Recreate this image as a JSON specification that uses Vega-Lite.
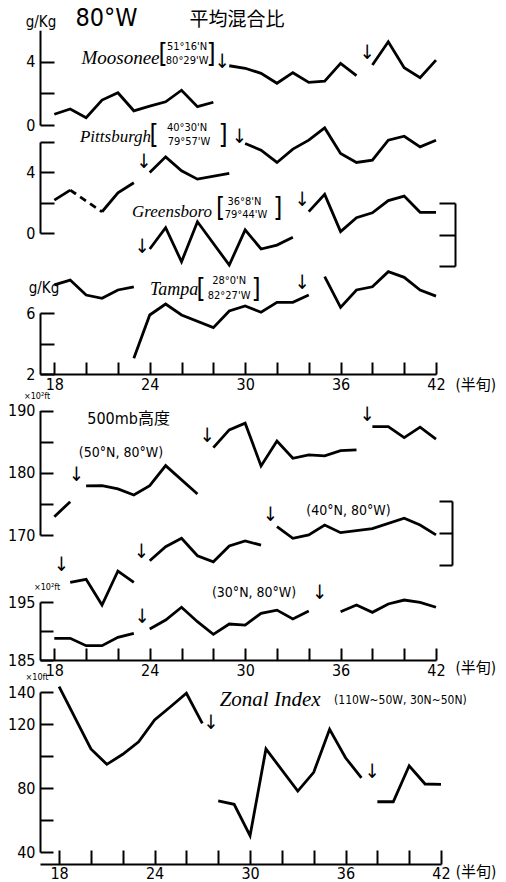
{
"$schema": "https://vega.github.io/schema/vega-lite/v6.json",
"padding": {"left": 7, "top": 0, "right": 0, "bottom": 0},
"background": "white",
"bounds": "flush",
"spacing": 16,
"config": {
  "view": {"stroke": null},
  "axis": {"grid": false, "domainColor": "#000", "domainWidth": 2, "tickColor": "#000", "tickWidth": 2, "labelColor": "#000", "labelFont": "DejaVu Sans Condensed, sans-serif", "labelFontSize": 16, "labelFlush": false, "labelOverlap": false, "labelPadding": 3}
},
"datasets": {
  "mix": [
    {"s":"M","g":"1","x":18,"v":0.68},{"s":"M","g":"1","x":19,"v":1.01},{"s":"M","g":"1","x":20,"v":0.46},{"s":"M","g":"1","x":21,"v":1.58},{"s":"M","g":"1","x":22,"v":2.04},{"s":"M","g":"1","x":23,"v":0.9},{"s":"M","g":"1","x":24,"v":1.2},{"s":"M","g":"1","x":25,"v":1.47},{"s":"M","g":"1","x":26,"v":2.2},{"s":"M","g":"1","x":27,"v":1.16},{"s":"M","g":"1","x":28,"v":1.44},
    {"s":"M","g":"2","x":29,"v":3.75},{"s":"M","g":"2","x":30,"v":3.59},{"s":"M","g":"2","x":31,"v":3.27},{"s":"M","g":"2","x":32,"v":2.64},{"s":"M","g":"2","x":33,"v":3.31},{"s":"M","g":"2","x":34,"v":2.7},{"s":"M","g":"2","x":35,"v":2.78},{"s":"M","g":"2","x":36,"v":3.9},{"s":"M","g":"2","x":37,"v":3.12},
    {"s":"M","g":"3","x":38,"v":3.8},{"s":"M","g":"3","x":39,"v":5.27},{"s":"M","g":"3","x":40,"v":3.63},{"s":"M","g":"3","x":41,"v":2.99},{"s":"M","g":"3","x":42,"v":4.11},
    {"s":"P","g":"1","x":18,"v":2.17},{"s":"P","g":"1","x":19,"v":2.83},
    {"s":"P","g":"d","x":19,"v":2.83},{"s":"P","g":"d","x":21,"v":1.4},
    {"s":"P","g":"2","x":21,"v":1.4},{"s":"P","g":"2","x":22,"v":2.65},{"s":"P","g":"2","x":23,"v":3.31},
    {"s":"P","g":"3","x":24,"v":3.99},{"s":"P","g":"3","x":25,"v":5.02},{"s":"P","g":"3","x":26,"v":4.1},{"s":"P","g":"3","x":27,"v":3.55},{"s":"P","g":"3","x":29,"v":3.93},
    {"s":"P","g":"4","x":30,"v":5.9},{"s":"P","g":"4","x":31,"v":5.46},{"s":"P","g":"4","x":32,"v":4.65},{"s":"P","g":"4","x":33,"v":5.53},{"s":"P","g":"4","x":34,"v":6.12},{"s":"P","g":"4","x":35,"v":6.93},{"s":"P","g":"4","x":36,"v":5.24},{"s":"P","g":"4","x":37,"v":4.65},{"s":"P","g":"4","x":38,"v":4.8},{"s":"P","g":"4","x":39,"v":6.12},{"s":"P","g":"4","x":40,"v":6.38},{"s":"P","g":"4","x":41,"v":5.68},{"s":"P","g":"4","x":42,"v":6.12},
    {"s":"G","g":"1","x":24,"v":1.08},{"s":"G","g":"1","x":25,"v":2.43},{"s":"G","g":"1","x":26,"v":0.27},{"s":"G","g":"1","x":27,"v":2.81},{"s":"G","g":"1","x":29,"v":0.06},{"s":"G","g":"1","x":30,"v":2.29},{"s":"G","g":"1","x":31,"v":1.08},{"s":"G","g":"1","x":32,"v":1.33},{"s":"G","g":"1","x":33,"v":1.82},
    {"s":"G","g":"2","x":34,"v":3.45},{"s":"G","g":"2","x":35,"v":4.55},{"s":"G","g":"2","x":36,"v":2.18},{"s":"G","g":"2","x":37,"v":3.07},{"s":"G","g":"2","x":38,"v":3.38},{"s":"G","g":"2","x":39,"v":4.15},{"s":"G","g":"2","x":40,"v":4.44},{"s":"G","g":"2","x":41,"v":3.41},{"s":"G","g":"2","x":42,"v":3.41},
    {"s":"T","g":"1","x":18,"v":7.84},{"s":"T","g":"1","x":19,"v":8.16},{"s":"T","g":"1","x":20,"v":7.18},{"s":"T","g":"1","x":21,"v":6.96},{"s":"T","g":"1","x":22,"v":7.51},{"s":"T","g":"1","x":23,"v":7.72},
    {"s":"T","g":"2","x":23,"v":3.03},{"s":"T","g":"2","x":24,"v":5.87},{"s":"T","g":"2","x":25,"v":6.59},{"s":"T","g":"2","x":26,"v":5.87},{"s":"T","g":"2","x":28,"v":5.04},{"s":"T","g":"2","x":29,"v":6.13},{"s":"T","g":"2","x":30,"v":6.46},{"s":"T","g":"2","x":31,"v":6.05},{"s":"T","g":"2","x":32,"v":6.7},{"s":"T","g":"2","x":33,"v":6.7},{"s":"T","g":"2","x":34,"v":7.18},
    {"s":"T","g":"3","x":35,"v":8.38},{"s":"T","g":"3","x":36,"v":6.37},{"s":"T","g":"3","x":37,"v":7.51},{"s":"T","g":"3","x":38,"v":7.72},{"s":"T","g":"3","x":39,"v":8.71},{"s":"T","g":"3","x":40,"v":8.34},{"s":"T","g":"3","x":41,"v":7.51},{"s":"T","g":"3","x":42,"v":7.11}
  ],
  "hgt": [
    {"s":"N50","g":"1","x":18,"v":172.94},{"s":"N50","g":"1","x":19,"v":175.35},
    {"s":"N50","g":"2","x":20,"v":177.88},{"s":"N50","g":"2","x":21,"v":177.93},{"s":"N50","g":"2","x":22,"v":177.4},{"s":"N50","g":"2","x":23,"v":176.43},{"s":"N50","g":"2","x":24,"v":177.93},{"s":"N50","g":"2","x":25,"v":181.14},{"s":"N50","g":"2","x":27,"v":176.59},
    {"s":"N50","g":"3","x":28,"v":184.04},{"s":"N50","g":"3","x":29,"v":186.88},{"s":"N50","g":"3","x":30,"v":187.96},{"s":"N50","g":"3","x":31,"v":181.09},{"s":"N50","g":"3","x":32,"v":185.11},{"s":"N50","g":"3","x":33,"v":182.33},{"s":"N50","g":"3","x":34,"v":182.86},{"s":"N50","g":"3","x":35,"v":182.7},{"s":"N50","g":"3","x":36,"v":183.55},{"s":"N50","g":"3","x":37,"v":183.67},
    {"s":"N50","g":"4","x":38,"v":187.41},{"s":"N50","g":"4","x":39,"v":187.41},{"s":"N50","g":"4","x":40,"v":185.64},{"s":"N50","g":"4","x":41,"v":187.32},{"s":"N50","g":"4","x":42,"v":185.39},
    {"s":"N40","g":"1","x":19,"v":177.3},{"s":"N40","g":"1","x":20,"v":177.77},{"s":"N40","g":"1","x":21,"v":173.75},{"s":"N40","g":"1","x":22,"v":179.06},{"s":"N40","g":"1","x":23,"v":177.3},
    {"s":"N40","g":"2","x":24,"v":180.67},{"s":"N40","g":"2","x":25,"v":182.86},{"s":"N40","g":"2","x":26,"v":184.17},{"s":"N40","g":"2","x":27,"v":181.45},{"s":"N40","g":"2","x":28,"v":180.5},{"s":"N40","g":"2","x":29,"v":182.97},{"s":"N40","g":"2","x":30,"v":183.75},{"s":"N40","g":"2","x":31,"v":183.1},
    {"s":"N40","g":"3","x":32,"v":186.0},{"s":"N40","g":"3","x":33,"v":184.17},{"s":"N40","g":"3","x":34,"v":184.7},{"s":"N40","g":"3","x":35,"v":186.25},{"s":"N40","g":"3","x":36,"v":185.05},{"s":"N40","g":"3","x":38,"v":185.7},{"s":"N40","g":"3","x":40,"v":187.3},{"s":"N40","g":"3","x":41,"v":186.25},{"s":"N40","g":"3","x":42,"v":184.7},
    {"s":"N30","g":"1","x":18,"v":188.74},{"s":"N30","g":"1","x":19,"v":188.74},{"s":"N30","g":"1","x":20,"v":187.47},{"s":"N30","g":"1","x":21,"v":187.47},{"s":"N30","g":"1","x":22,"v":188.9},{"s":"N30","g":"1","x":23,"v":189.6},
    {"s":"N30","g":"2","x":24,"v":190.34},{"s":"N30","g":"2","x":25,"v":191.9},{"s":"N30","g":"2","x":26,"v":194.1},{"s":"N30","g":"2","x":27,"v":191.6},{"s":"N30","g":"2","x":28,"v":189.43},{"s":"N30","g":"2","x":29,"v":191.2},{"s":"N30","g":"2","x":30,"v":191.03},{"s":"N30","g":"2","x":31,"v":193.05},{"s":"N30","g":"2","x":32,"v":193.6},{"s":"N30","g":"2","x":33,"v":192.07},{"s":"N30","g":"2","x":34,"v":193.45},
    {"s":"N30","g":"3","x":36,"v":193.33},{"s":"N30","g":"3","x":37,"v":194.48},{"s":"N30","g":"3","x":38,"v":193.22},{"s":"N30","g":"3","x":39,"v":194.66},{"s":"N30","g":"3","x":40,"v":195.34},{"s":"N30","g":"3","x":41,"v":194.95},{"s":"N30","g":"3","x":42,"v":194.09}
  ],
  "zi": [
    {"s":"Z","g":"1","x":18,"v":143.3},{"s":"Z","g":"1","x":20,"v":104.4},{"s":"Z","g":"1","x":21,"v":94.8},{"s":"Z","g":"1","x":22,"v":101.1},{"s":"Z","g":"1","x":23,"v":108.9},{"s":"Z","g":"1","x":24,"v":122.5},{"s":"Z","g":"1","x":25,"v":130.8},{"s":"Z","g":"1","x":26,"v":139.2},{"s":"Z","g":"1","x":27,"v":120.4},
    {"s":"Z","g":"2","x":28,"v":71.9},{"s":"Z","g":"2","x":29,"v":69.8},{"s":"Z","g":"2","x":30,"v":50.2},{"s":"Z","g":"2","x":31,"v":104.4},{"s":"Z","g":"2","x":33,"v":78.1},{"s":"Z","g":"2","x":34,"v":89.8},{"s":"Z","g":"2","x":35,"v":116.7},{"s":"Z","g":"2","x":36,"v":98.9},{"s":"Z","g":"2","x":37,"v":86.4},
    {"s":"Z","g":"3","x":38,"v":71.4},{"s":"Z","g":"3","x":39,"v":71.4},{"s":"Z","g":"3","x":40,"v":93.9},{"s":"Z","g":"3","x":41,"v":82.5},{"s":"Z","g":"3","x":42,"v":82.3}
  ],
  "notes": [
    {"s":"M","k":"md","x":17.16,"v":6.52,"t":"g/Kg"},
    {"s":"M","k":"big","x":21.28,"v":6.77,"t":"80°W"},
    {"s":"M","k":"cjk","x":29.49,"v":6.65,"t":"平均混合比"},
    {"s":"M","k":"it","x":22.16,"v":4.24,"t":"Moosonee"},
    {"s":"M","k":"co","x":26.35,"v":4.94,"t":"51°16'N"},
    {"s":"M","k":"co","x":26.35,"v":4.05,"t":"80°29'W"},
    {"s":"M","k":"br","x":24.84,"v":4.49,"t":"["},
    {"s":"M","k":"br","x":27.86,"v":4.49,"t":"]"},
    {"s":"M","k":"ar","x":28.55,"v":4.0,"t":"↓"},
    {"s":"M","k":"ar","x":37.67,"v":4.54,"t":"↓"},
    {"s":"P","k":"it","x":21.85,"v":6.33,"t":"Pittsburgh"},
    {"s":"P","k":"co","x":26.35,"v":6.92,"t":"40°30'N"},
    {"s":"P","k":"co","x":26.47,"v":6.0,"t":"79°57'W"},
    {"s":"P","k":"br","x":24.27,"v":6.46,"t":"["},
    {"s":"P","k":"br","x":28.61,"v":6.46,"t":"]"},
    {"s":"P","k":"ar","x":23.62,"v":4.7,"t":"↓"},
    {"s":"P","k":"ar","x":29.63,"v":6.35,"t":"↓"},
    {"s":"G","k":"it","x":25.4,"v":3.43,"t":"Greensboro"},
    {"s":"G","k":"co","x":29.95,"v":4.06,"t":"36°8'N"},
    {"s":"G","k":"co","x":30.05,"v":3.24,"t":"79°44'W"},
    {"s":"G","k":"br","x":28.45,"v":3.68,"t":"["},
    {"s":"G","k":"br","x":32.05,"v":3.68,"t":"]"},
    {"s":"G","k":"ar","x":23.52,"v":1.23,"t":"↓"},
    {"s":"G","k":"ar","x":33.58,"v":4.19,"t":"↓"},
    {"s":"T","k":"it","x":25.53,"v":7.51,"t":"Tampa"},
    {"s":"T","k":"co","x":28.99,"v":8.1,"t":"28°0'N"},
    {"s":"T","k":"co","x":28.99,"v":7.11,"t":"82°27'W"},
    {"s":"T","k":"br","x":27.23,"v":7.57,"t":"["},
    {"s":"T","k":"br","x":30.68,"v":7.57,"t":"]"},
    {"s":"T","k":"md","x":17.35,"v":7.64,"t":"g/Kg"},
    {"s":"T","k":"ar","x":33.58,"v":7.95,"t":"↓"},
    {"s":"T","k":"md","x":44.5,"v":1.28,"t":"(半旬)"},
    {"s":"N50","k":"sm","x":16.91,"v":192.4,"t":"×10²ft"},
    {"s":"N50","k":"md","x":22.67,"v":188.57,"t":"500mb高度"},
    {"s":"N50","k":"lb","x":22.19,"v":183.1,"t":"(50°N, 80°W)"},
    {"s":"N50","k":"ar","x":19.38,"v":179.65,"t":"↓"},
    {"s":"N50","k":"ar","x":27.6,"v":185.9,"t":"↓"},
    {"s":"N50","k":"ar","x":37.67,"v":189.3,"t":"↓"},
    {"s":"N40","k":"lb","x":36.5,"v":188.36,"t":"(40°N, 80°W)"},
    {"s":"N40","k":"ar","x":18.44,"v":180.0,"t":"↓"},
    {"s":"N40","k":"ar","x":23.47,"v":182.08,"t":"↓"},
    {"s":"N40","k":"ar","x":31.58,"v":187.8,"t":"↓"},
    {"s":"N30","k":"lb","x":30.56,"v":196.55,"t":"(30°N, 80°W)"},
    {"s":"N30","k":"sm","x":17.54,"v":197.6,"t":"×10²ft"},
    {"s":"N30","k":"ar","x":23.52,"v":192.47,"t":"↓"},
    {"s":"N30","k":"ar","x":34.67,"v":196.5,"t":"↓"},
    {"s":"N30","k":"md","x":44.5,"v":183.6,"t":"(半旬)"},
    {"s":"Z","k":"sm","x":16.61,"v":149.5,"t":"×10ft"},
    {"s":"Z","k":"it","x":31.26,"v":135,"t":"Zonal Index"},
    {"s":"Z","k":"co","x":39.45,"v":135,"t":"(110W~50W, 30N~50N)"},
    {"s":"Z","k":"ar","x":27.53,"v":120.4,"t":"↓"},
    {"s":"Z","k":"ar","x":37.67,"v":90.2,"t":"↓"},
    {"s":"Z","k":"md","x":44.2,"v":27.5,"t":"(半旬)"}
  ]
},
"vconcat": [
  {
    "width": 396, "height": 374,
    "encoding": {"x": {"field":"x","type":"quantitative","title":null,"scale":{"domain":[17.1,42],"nice":false,"zero":false},"axis":{"values":[18,20,22,24,26,28,30,32,34,36,38,40,42],"tickSize":-12,"labelPadding":14,"labelExpr":"datum.value % 6 == 0 ? datum.label : ''"}}},
    "resolve": {"scale": {"y": "independent"}, "axis": {"y": "independent"}},
    "layer": [
      {
        "encoding": {"y": {"field":"v","type":"quantitative","title":null,"scale":{"domain":[0,6],"range":[125,30.2],"nice":false,"zero":false},"axis":{"orient":"left","values":[0,2,4],"tickSize":-14,"labelPadding":19,"labelExpr":"datum.value == 2 ? '' : datum.label"}}},
        "layer": [
          {"data":{"name":"mix"},"transform":[{"filter":"datum.s=='M'"}],"mark":{"type":"line","color":"#000","strokeWidth":2.8},"encoding":{"detail":{"field":"g","type":"nominal"}}},
          {"data":{"name":"notes"},"transform":[{"filter":"datum.s=='M' && datum.k!='it'"}],"mark":{"type":"text","align":"center","baseline":"middle","color":"#000","font":"DejaVu Sans Condensed, Noto Sans CJK JP, sans-serif"},"encoding":{"text":{"field":"t","type":"nominal"},"size":{"condition":[{"test":"datum.k=='ar'","value":20},{"test":"datum.k=='br'","value":26},{"test":"datum.k=='big'","value":25},{"test":"datum.k=='cjk'","value":19},{"test":"datum.k=='md'","value":15}],"value":11}}},
          {"data":{"name":"notes"},"transform":[{"filter":"datum.s=='M' && datum.k=='it'"}],"mark":{"type":"text","align":"center","baseline":"middle","color":"#000","font":"Liberation Serif","fontStyle":"italic","fontSize":19},"encoding":{"text":{"field":"t","type":"nominal"}}}
        ]
      },
      {
        "encoding": {"y": {"field":"v","type":"quantitative","title":null,"scale":{"domain":[0,6],"range":[233,142],"nice":false,"zero":false},"axis":{"orient":"left","values":[0,2,4,6],"tickSize":-14,"labelPadding":19,"labelExpr":"datum.value == 0 || datum.value == 4 ? datum.label : ''"}}},
        "layer": [
          {"data":{"name":"mix"},"transform":[{"filter":"datum.s=='P' && datum.g!='d'"}],"mark":{"type":"line","color":"#000","strokeWidth":2.8},"encoding":{"detail":{"field":"g","type":"nominal"}}},
          {"data":{"name":"mix"},"transform":[{"filter":"datum.s=='P' && datum.g=='d'"}],"mark":{"type":"line","color":"#000","strokeWidth":2.8,"strokeDash":[7,5]},"encoding":{"detail":{"field":"g","type":"nominal"}}},
          {"data":{"name":"notes"},"transform":[{"filter":"datum.s=='P' && datum.k!='it'"}],"mark":{"type":"text","align":"center","baseline":"middle","color":"#000","font":"DejaVu Sans Condensed, Noto Sans CJK JP, sans-serif"},"encoding":{"text":{"field":"t","type":"nominal"},"size":{"condition":[{"test":"datum.k=='ar'","value":20},{"test":"datum.k=='br'","value":26}],"value":11}}},
          {"data":{"name":"notes"},"transform":[{"filter":"datum.s=='P' && datum.k=='it'"}],"mark":{"type":"text","align":"center","baseline":"middle","color":"#000","font":"Liberation Serif","fontStyle":"italic","fontSize":17},"encoding":{"text":{"field":"t","type":"nominal"}}}
        ]
      },
      {
        "encoding": {"y": {"field":"v","type":"quantitative","title":null,"scale":{"domain":[0,4],"range":[266,203],"nice":false,"zero":false},"axis":{"orient":"right","offset":19,"values":[0,2,4],"tickSize":-16,"labels":false}}},
        "layer": [
          {"data":{"name":"mix"},"transform":[{"filter":"datum.s=='G'"}],"mark":{"type":"line","color":"#000","strokeWidth":2.8},"encoding":{"detail":{"field":"g","type":"nominal"}}},
          {"data":{"name":"notes"},"transform":[{"filter":"datum.s=='G' && datum.k!='it'"}],"mark":{"type":"text","align":"center","baseline":"middle","color":"#000","font":"DejaVu Sans Condensed, Noto Sans CJK JP, sans-serif"},"encoding":{"text":{"field":"t","type":"nominal"},"size":{"condition":[{"test":"datum.k=='ar'","value":20},{"test":"datum.k=='br'","value":26}],"value":11}}},
          {"data":{"name":"notes"},"transform":[{"filter":"datum.s=='G' && datum.k=='it'"}],"mark":{"type":"text","align":"center","baseline":"middle","color":"#000","font":"Liberation Serif","fontStyle":"italic","fontSize":17},"encoding":{"text":{"field":"t","type":"nominal"}}}
        ]
      },
      {
        "encoding": {"y": {"field":"v","type":"quantitative","title":null,"scale":{"domain":[2,6],"range":[374,313],"nice":false,"zero":false},"axis":{"orient":"left","values":[2,4,6],"tickSize":-14,"labelPadding":19,"labelExpr":"datum.value == 4 ? '' : datum.label"}}},
        "layer": [
          {"data":{"name":"mix"},"transform":[{"filter":"datum.s=='T'"}],"mark":{"type":"line","color":"#000","strokeWidth":2.8},"encoding":{"detail":{"field":"g","type":"nominal"}}},
          {"data":{"name":"notes"},"transform":[{"filter":"datum.s=='T' && datum.k!='it'"}],"mark":{"type":"text","align":"center","baseline":"middle","color":"#000","font":"DejaVu Sans Condensed, Noto Sans CJK JP, sans-serif"},"encoding":{"text":{"field":"t","type":"nominal"},"size":{"condition":[{"test":"datum.k=='ar'","value":20},{"test":"datum.k=='br'","value":26},{"test":"datum.k=='md'","value":15}],"value":11}}},
          {"data":{"name":"notes"},"transform":[{"filter":"datum.s=='T' && datum.k=='it'"}],"mark":{"type":"text","align":"center","baseline":"middle","color":"#000","font":"Liberation Serif","fontStyle":"italic","fontSize":18},"encoding":{"text":{"field":"t","type":"nominal"}}}
        ]
      }
    ]
  },
  {
    "width": 396, "height": 270,
    "encoding": {"x": {"field":"x","type":"quantitative","title":null,"scale":{"domain":[17.1,42],"nice":false,"zero":false},"axis":{"values":[18,20,22,24,26,28,30,32,34,36,38,40,42],"tickSize":-12,"labelPadding":14,"labelExpr":"datum.value % 6 == 0 ? datum.label : ''"}}},
    "resolve": {"scale": {"y": "independent"}, "axis": {"y": "independent"}},
    "layer": [
      {
        "encoding": {"y": {"field":"v","type":"quantitative","title":null,"scale":{"domain":[170,190],"range":[145,20.5],"nice":false,"zero":false},"axis":{"orient":"left","values":[170,175,180,185,190],"tickSize":-13,"labelPadding":18,"labelExpr":"datum.value % 10 == 0 ? datum.label : ''"}}},
        "layer": [
          {"data":{"name":"hgt"},"transform":[{"filter":"datum.s=='N50'"}],"mark":{"type":"line","color":"#000","strokeWidth":2.8},"encoding":{"detail":{"field":"g","type":"nominal"}}},
          {"data":{"name":"notes"},"transform":[{"filter":"datum.s=='N50'"}],"mark":{"type":"text","align":"center","baseline":"middle","color":"#000","font":"DejaVu Sans Condensed, Noto Sans CJK JP, sans-serif"},"encoding":{"text":{"field":"t","type":"nominal"},"size":{"condition":[{"test":"datum.k=='ar'","value":20},{"test":"datum.k=='sm'","value":9},{"test":"datum.k=='md'","value":16},{"test":"datum.k=='lb'","value":14}],"value":11}}}
        ]
      },
      {
        "encoding": {"y": {"field":"v","type":"quantitative","title":null,"scale":{"domain":[180,190],"range":[175,111],"nice":false,"zero":false},"axis":{"orient":"right","offset":16,"values":[180,185,190],"tickSize":-13,"labels":false}}},
        "layer": [
          {"data":{"name":"hgt"},"transform":[{"filter":"datum.s=='N40'"}],"mark":{"type":"line","color":"#000","strokeWidth":2.8},"encoding":{"detail":{"field":"g","type":"nominal"}}},
          {"data":{"name":"notes"},"transform":[{"filter":"datum.s=='N40'"}],"mark":{"type":"text","align":"center","baseline":"middle","color":"#000","font":"DejaVu Sans Condensed, Noto Sans CJK JP, sans-serif"},"encoding":{"text":{"field":"t","type":"nominal"},"size":{"condition":[{"test":"datum.k=='ar'","value":20},{"test":"datum.k=='lb'","value":14}],"value":11}}}
        ]
      },
      {
        "encoding": {"y": {"field":"v","type":"quantitative","title":null,"scale":{"domain":[185,195],"range":[270,212],"nice":false,"zero":false},"axis":{"orient":"left","values":[185,190,195],"tickSize":-13,"labelPadding":18,"labelExpr":"datum.value == 190 ? '' : datum.label"}}},
        "layer": [
          {"data":{"name":"hgt"},"transform":[{"filter":"datum.s=='N30'"}],"mark":{"type":"line","color":"#000","strokeWidth":2.8},"encoding":{"detail":{"field":"g","type":"nominal"}}},
          {"data":{"name":"notes"},"transform":[{"filter":"datum.s=='N30'"}],"mark":{"type":"text","align":"center","baseline":"middle","color":"#000","font":"DejaVu Sans Condensed, Noto Sans CJK JP, sans-serif"},"encoding":{"text":{"field":"t","type":"nominal"},"size":{"condition":[{"test":"datum.k=='ar'","value":20},{"test":"datum.k=='sm'","value":9},{"test":"datum.k=='md'","value":15},{"test":"datum.k=='lb'","value":14}],"value":11}}}
        ]
      }
    ]
  },
  {
    "width": 401, "height": 188,
    "encoding": {
      "x": {"field":"x","type":"quantitative","title":null,"scale":{"domain":[16.8,42],"nice":false,"zero":false},"axis":{"values":[18,20,22,24,26,28,30,32,34,36,38,40,42],"tickSize":-14,"labelPadding":15,"labelExpr":"datum.value % 6 == 0 ? datum.label : ''"}},
      "y": {"field":"v","type":"quantitative","title":null,"scale":{"domain":[40,140],"range":[176,16],"nice":false,"zero":false},"axis":{"orient":"left","values":[40,60,80,100,120,140],"tickSize":-13,"labelPadding":18,"labelExpr":"datum.value == 60 || datum.value == 100 ? '' : datum.label"}}
    },
    "layer": [
      {"data":{"name":"zi"},"mark":{"type":"line","color":"#000","strokeWidth":2.8},"encoding":{"detail":{"field":"g","type":"nominal"}}},
      {"data":{"name":"notes"},"transform":[{"filter":"datum.s=='Z' && datum.k!='it'"}],"mark":{"type":"text","align":"center","baseline":"middle","color":"#000","font":"DejaVu Sans Condensed, Noto Sans CJK JP, sans-serif"},"encoding":{"text":{"field":"t","type":"nominal"},"size":{"condition":[{"test":"datum.k=='ar'","value":20},{"test":"datum.k=='sm'","value":9},{"test":"datum.k=='md'","value":15},{"test":"datum.k=='co'","value":12}],"value":11}}},
      {"data":{"name":"notes"},"transform":[{"filter":"datum.s=='Z' && datum.k=='it'"}],"mark":{"type":"text","align":"center","baseline":"middle","color":"#000","font":"Liberation Serif","fontStyle":"italic","fontSize":21},"encoding":{"text":{"field":"t","type":"nominal"}}}
    ]
  }
]
}
